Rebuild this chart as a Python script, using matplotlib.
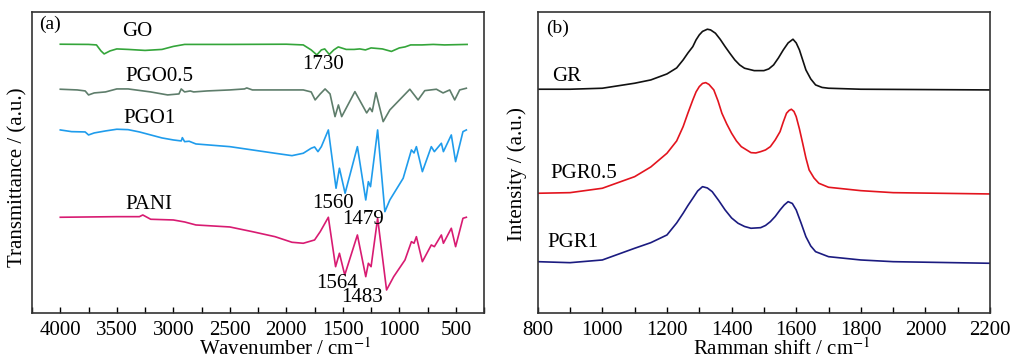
import matplotlib
matplotlib.use("Agg")
import matplotlib.pyplot as plt
from matplotlib.ticker import MultipleLocator

plt.rcParams['font.family'] = ['Liberation Serif', 'DejaVu Serif']
plt.rcParams['mathtext.fontset'] = 'stix'

# ---------------- FTIR data (panel a) ----------------
go_x = [4000, 3750, 3680, 3640, 3612, 3560, 3500, 3400, 3250, 3100, 3000, 2900, 2500, 2000,
        1850, 1780, 1730, 1690, 1660, 1620, 1580, 1540, 1470, 1400, 1350, 1300, 1250, 1150,
        1070, 1000, 950, 900, 800, 700, 600, 400]
go_y = [268.7, 268.5, 268, 262, 259, 262, 264, 263.5, 262.5, 263.5, 266.5, 268.5, 268.5, 268.7,
        268, 263, 258, 263, 264, 258.5, 263, 266, 263.5, 263.5, 264, 263, 265, 264,
        261.5, 265, 266, 268, 268, 268.5, 268, 268.5]

pgo05_x = [4000, 3850, 3780, 3750, 3700, 3600, 3500, 3400, 3200, 3050, 2950, 2930, 2900, 2850,
           2820, 2700, 2500, 2370, 2350, 2300, 2000, 1850, 1780, 1745, 1700, 1657, 1613, 1569,
           1539, 1510, 1393, 1289, 1260, 1240, 1207, 1143, 1084, 907, 834, 775, 672, 613,
           554, 510, 466, 407]
pgo05_y = [223.7, 223, 222, 218, 220, 221, 224, 224, 221, 218, 219, 224, 221, 222,
           221, 222, 223, 224, 225, 223, 223, 223, 221, 213, 219, 224, 219, 196.3,
           208, 196.3, 221.3, 200, 205, 201.3, 220.3, 191.3, 203, 223.7, 213, 222.3, 223.7, 220,
           223, 213, 223, 224.7]

pgo1_x = [4000, 3900, 3780, 3750, 3700, 3600, 3500, 3400, 3300, 3200, 3100, 3000, 2930, 2920,
          2900, 2860, 2800, 2500, 2300, 2100, 1950, 1850, 1780, 1750, 1720, 1690, 1628, 1560,
          1530, 1480, 1371, 1297, 1274, 1255, 1192, 1128, 1084, 966, 893, 870, 849, 796,
          717, 690, 628, 610, 540, 502, 437, 407]
pgo1_y = [183, 181.3, 181, 178, 180, 182, 183.7, 183.3, 181, 178, 175, 173, 172, 175.3,
          171.3, 171.7, 169, 166.3, 163, 159.7, 157.3, 159.7, 164.7, 166, 161.3, 166.3, 183, 124.7,
          144.7, 119.7, 166.3, 113, 131.3, 126.3, 183, 101.3, 113, 134.7, 163, 160, 166.3, 141.3,
          166.3, 161.3, 169.7, 161.3, 178, 151.3, 181.3, 183]

pani_x = [4000, 3500, 3300, 3270, 3200, 3000, 2900, 2800, 2500, 2300, 2100, 1950, 1850, 1750,
          1700, 1628, 1564, 1530, 1483, 1371, 1297, 1274, 1250, 1192, 1113, 1050, 950, 893,
          870, 849, 796, 717, 690, 628, 610, 540, 502, 437, 407]
pani_y = [95.7, 96.3, 96.3, 98, 93.7, 93, 91, 88, 86, 81.3, 76.3, 70.7, 69.7, 73,
          81.3, 95.7, 46.3, 59.7, 38, 78, 36.3, 49.7, 46.3, 94.7, 23, 36.3, 53, 71.3,
          69.7, 76.3, 51.3, 68, 66.3, 78, 69.7, 84.7, 66.3, 94.7, 95.7]

ftir_names = ["GO", "PGO0.5", "PGO1", "PANI"]
ftir_label_pos = [(3315, 281), (3126, 236.3), (3215, 194.7), (3215, 108)]
peak_labels = ["1730", "1560", "1479", "1564", "1483"]
peak_label_pos = [(1672, 248), (1583, 109.7), (1325, 93.7), (1555, 29.7), (1334, 15.3)]

# ---------------- Raman data (panel b) ----------------
gr_x = [800, 900, 1000, 1100, 1150, 1200, 1230, 1250, 1265, 1280, 1290, 1300, 1310, 1325, 1335,
        1350, 1365, 1380, 1395, 1410, 1425, 1440, 1470, 1500, 1515, 1530, 1545, 1560, 1575,
        1590, 1600, 1610, 1620, 1630, 1645, 1660, 1680, 1700, 1800, 2200]
gr_y = [223.7, 223.7, 224.7, 229.7, 233, 239, 245, 253, 260, 266.3, 273, 278, 281.5, 283.7, 283,
        279.7, 273.5, 266.3, 259.5, 253, 248, 244.7, 242.3, 242.3, 244, 248, 255, 263, 270,
        273.7, 270, 263, 253, 243, 234, 228, 225.5, 224.7, 223.7, 223]

pgr05_x = [800, 900, 1000, 1100, 1150, 1200, 1230, 1250, 1265, 1280, 1290, 1300, 1310, 1320, 1330,
           1345, 1358, 1370, 1385, 1400, 1415, 1430, 1460, 1475, 1490, 1505, 1520, 1535, 1550,
           1560, 1570, 1578, 1585, 1593, 1600, 1610, 1620, 1630, 1640, 1655, 1670, 1700, 1800,
           1900, 2200]
pgr05_y = [119.7, 120.3, 124.7, 136.3, 146, 159.7, 172, 186.3, 200, 213, 221, 226.3, 229.5, 230.3, 228.5,
           223, 212, 199.7, 189, 179.7, 172, 166.3, 160.3, 160, 161.3, 163, 166.3, 173, 181.3,
           191, 199.7, 202.5, 203.7, 201.5, 196.3, 184, 169.7, 155, 143, 135, 129.7, 125.7, 122.3,
           120.3, 119]

pgr1_x = [800, 900, 1000, 1100, 1150, 1200, 1230, 1250, 1265, 1280, 1295, 1310, 1325, 1340, 1360,
          1380, 1400, 1420, 1440, 1460, 1490, 1505, 1520, 1535, 1550, 1563, 1575, 1588, 1600,
          1615, 1630, 1645, 1660, 1700, 1800, 1900, 2200]
pgr1_y = [51.3, 50.3, 53, 64.7, 70.3, 78, 90, 99.7, 107.5, 114.7, 122, 126.3, 125, 121.3, 112.5,
          103, 95, 89.7, 86.5, 84.7, 85.3, 87.5, 91.3, 96.5, 103, 108, 111.3, 109.5, 103,
          90, 76.3, 67, 61.3, 56.3, 53, 51.3, 49.7]

raman_names = ["GR", "PGR0.5", "PGR1"]
raman_label_pos = [(890, 236.3), (941, 139.7), (910, 70.3)]

ftir_colors = ["#34a53a", "#5e7d6b", "#1f9cec", "#d81b72"]
raman_colors = ["#111111", "#e3141e", "#1b1b80"]

fig = plt.figure(figsize=(10.14, 3.61), dpi=100)
ax1 = fig.add_axes([0.0316, 0.133, 0.4458, 0.834])
ax2 = fig.add_axes([0.5303, 0.133, 0.4461, 0.834])

for x, y, c in zip([go_x, pgo05_x, pgo1_x, pani_x], [go_y, pgo05_y, pgo1_y, pani_y], ftir_colors):
    ax1.plot(x, y, color=c, lw=1.2)
for name, (px, py) in zip(ftir_names, ftir_label_pos):
    ax1.text(px, py, name, fontsize=15, ha='center', va='center')
for name, (px, py) in zip(peak_labels, peak_label_pos):
    ax1.text(px, py, name, fontsize=15, ha='center', va='center')

for x, y, c in zip([gr_x, pgr05_x, pgr1_x], [gr_y, pgr05_y, pgr1_y], raman_colors):
    ax2.plot(x, y, color=c, lw=1.2)
for name, (px, py) in zip(raman_names, raman_label_pos):
    ax2.text(px, py, name, fontsize=15, ha='center', va='center')

ax1.set_xlim(4250, 250)
ax1.xaxis.set_major_locator(MultipleLocator(500))
ax1.xaxis.set_minor_locator(MultipleLocator(250))
ax2.set_xlim(800, 2200)
ax2.xaxis.set_major_locator(MultipleLocator(200))
ax2.xaxis.set_minor_locator(MultipleLocator(100))

for ax in (ax1, ax2):
    ax.set_ylim(0, 301)
    ax.set_yticks([])
    ax.tick_params(axis='x', which='both', direction='in', length=4, width=1.0,
                   labelsize=15, pad=6, top=False)
    for s in ax.spines.values():
        s.set_linewidth(1.2)
        s.set_color('#333333')

ax1.set_xlabel("Wavenumber / cm$^{-1}$", fontsize=15, labelpad=0)
ax1.set_ylabel("Transmittance / (a.u.)", fontsize=15, labelpad=4)
ax1.xaxis.set_label_coords(0.56, -0.085)
ax1.yaxis.set_label_coords(-0.011, 0.45)
ax2.set_xlabel("Ramman shift / cm$^{-1}$", fontsize=15, labelpad=0)
ax2.set_ylabel("Intensity / (a.u.)", fontsize=15, labelpad=4)
ax2.xaxis.set_label_coords(0.54, -0.085)
ax2.yaxis.set_label_coords(-0.024, 0.46)

ax1.text(0.015, 0.96, "(a)", transform=ax1.transAxes, fontsize=14, ha='left', va='center')
ax2.text(0.018, 0.946, "(b)", transform=ax2.transAxes, fontsize=14, ha='left', va='center')

fig.savefig("out.png", dpi=100)
